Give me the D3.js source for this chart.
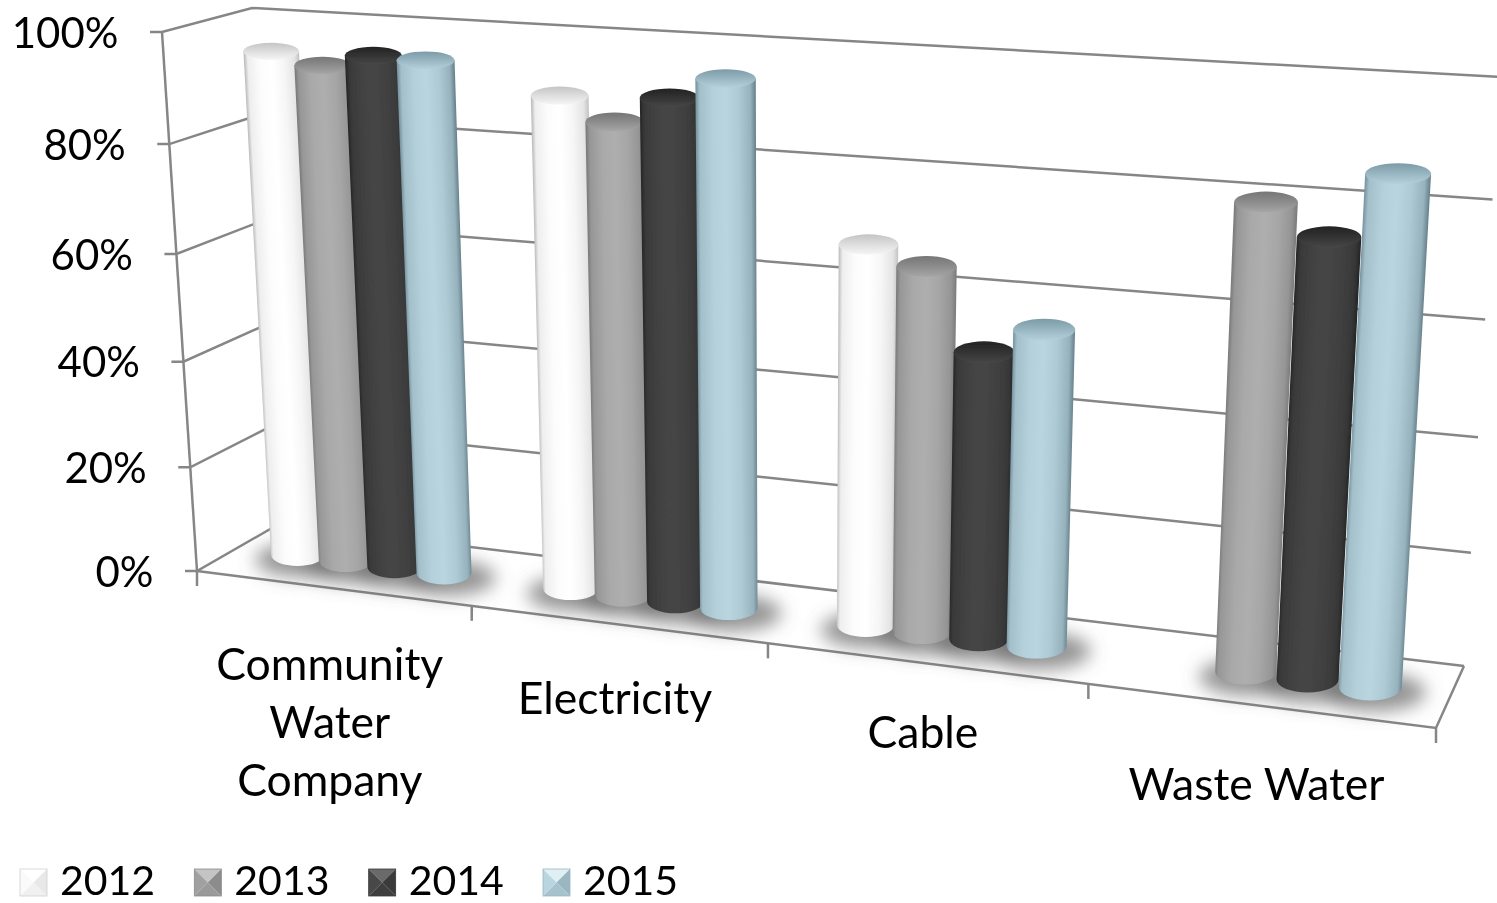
<!DOCTYPE html>
<html><head><meta charset="utf-8">
<script src="https://cdn.jsdelivr.net/npm/d3@7"></script>
<style>html,body{margin:0;padding:0;background:#fff;overflow:hidden}svg{display:block}text{font-family:Lato,sans-serif;fill:#000}</style>
</head><body><svg id="c" width="1497" height="903"></svg>
<script>
// ---- data ----
const categories = ["Community Water Company","Electricity","Cable","Waste Water"];
const categoryLines = [["Community","Water","Company"],["Electricity"],["Cable"],["Waste Water"]];
const years = ["2012","2013","2014","2015"];
const v2012 = [95,90.2,68,null];
const v2013 = [93,86.2,65,80];
const v2014 = [95.3,91,51,75];
const v2015 = [95,94.9,55.8,86];
const yTicks = [0,20,40,60,80,100];
const series = [v2012,v2013,v2014,v2015];

// ---- styles ----
const sideStops = [
 ["#c0c0c0","#eeeeee","#fcfcfc","#ffffff","#f6f6f6","#e4e4e4","#c6c6c6"],
 ["#7c7c7c","#979797","#a9a9a9","#aeaeae","#a6a6a6","#959595","#7d7d7d"],
 ["#282828","#393939","#434343","#454545","#414141","#383838","#272727"],
 ["#7a98a3","#a2bfca","#b4d0da","#b9d5df","#aecad5","#96b2bd","#6a8590"]];
const capStops = [["#c4c4c4","#dedede","#f5f5f5"],["#767676","#8c8c8c","#a6a6a6"],["#232323","#333333","#474747"],["#7c9ba6","#98b6c1","#b5d1db"]];
const bevel = [["#ffffff","#e8e8e8","#f0f0f0","#fafafa"],["#c4c4c4","#8c8c8c","#9a9a9a","#a0a0a0"],["#6a6a6a","#3a3a3a","#3e3e3e","#484848"],["#dfeff4","#9ab6c1","#a6c2cd","#b9d5df"]];
const lineColor = "#868686", axisFontPx = 42, catFontPx = 44.5, legendFontPx = 41;

// ---- projection: box corners of the 3D plot, with perspective warps ----
const C = {
 f0b:[197,571], f1b:[1436,728], b0b:[279,524], b1b:[1464,666],
 f0t:[162,32],  f1t:[1474,104], b0t:[252,8],   b1t:[1500,77]};
const warp = k => t => t/(t+k*(1-t));
const uNorm = d3.scaleLinear().domain([0,categories.length]).range([0,1]);
const vNorm = d3.scaleLinear().domain([0,100]).range([0,1]);
const uW = warp(1.17), vW = warp(1.05);
const mix = (a,b,t)=>[a[0]+(b[0]-a[0])*t,a[1]+(b[1]-a[1])*t];
function project(cat,val,w){
  const u=uW(uNorm(cat)), v=vW(vNorm(val));
  const fb=mix(C.f0b,C.f1b,u), ft=mix(C.f0t,C.f1t,u), bb=mix(C.b0b,C.b1b,u), bt=mix(C.b0t,C.b1t,u);
  return mix(mix(fb,bb,w),mix(ft,bt,w),v);
}
const svg=d3.select("#c"), defs=svg.append("defs");
defs.append("filter").attr("id","shadow").attr("x","-50%").attr("y","-100%").attr("width","200%").attr("height","300%")
  .append("feGaussianBlur").attr("stdDeviation",9);
defs.append("filter").attr("id","soft").attr("x","-5%").attr("y","-5%").attr("width","110%").attr("height","110%")
  .append("feGaussianBlur").attr("stdDeviation",0.5);
const line=d3.line();
const grid=svg.append("g").attr("fill","none").attr("stroke",lineColor).attr("stroke-width",2.5);

// walls
yTicks.forEach(t=>{
  const a=project(0,t,0);
  grid.append("path").attr("d",line([[a[0]-12,a[1]],a,project(0,t,1),project(categories.length,t,1)]));
});
// floor and axes
const n=categories.length;
grid.append("path").attr("d",line([project(0,0,0),project(n,0,0),project(n,0,1)]));
grid.append("path").attr("d",line([project(0,0,0),project(0,100,0)]));
d3.range(n+1).forEach(i=>{const p=project(i,0,0);grid.append("path").attr("d",line([p,[p[0],p[1]+15]]));});

// cylinders
const gap=0.125, slot=(1-2*gap)/years.length, pitch=slot*0.97;
const shadows=svg.append("g").attr("filter","url(#shadow)");
const bars=svg.append("g").attr("filter","url(#soft)");
function ring(cat,val,half){
  const l=project(cat-half,val,0.5), r=project(cat+half,val,0.5);
  const rx=(r[0]-l[0])/2, t=vW(vNorm(val));
  return {cx:(l[0]+r[0])/2, cy:(l[1]+r[1])/2, rx, ry:rx*(0.42+(0.30-0.42)*t)};
}
categories.forEach((c,i)=>{
  const half=slot/2*(1.07-0.035*i);
  series.forEach((vals,j)=>{
    const val=vals[i];
    if(val==null) return;
    const cat=i+0.5+pitch*(j-(years.length-1)/2);
    const b=ring(cat,0,half), t=ring(cat,val,half);
    shadows.append("ellipse").attr("cx",b.cx+4).attr("cy",b.cy+5).attr("rx",b.rx+20).attr("ry",b.ry+6).attr("fill","#666").attr("opacity",.7);
    // shading runs across the cylinder, normal to its leaning axis
    const ax=t.cx-b.cx, ay=t.cy-b.cy, len=Math.hypot(ax,ay), nx=-ay/len, ny=ax/len;
    const mx=(t.cx+b.cx)/2, my=(t.cy+b.cy)/2, hw=(t.rx+b.rx)/2;
    const sid=`side${i}${j}`;
    const sg=defs.append("linearGradient").attr("id",sid).attr("gradientUnits","userSpaceOnUse")
      .attr("x1",mx-nx*hw).attr("y1",my-ny*hw).attr("x2",mx+nx*hw).attr("y2",my+ny*hw);
    sideStops[j].forEach((col,q)=>sg.append("stop").attr("offset",[0,.06,.28,.5,.72,.92,1][q]).attr("stop-color",col));
    const g=bars.append("g");
    const d=`M${t.cx-t.rx},${t.cy}L${b.cx-b.rx},${b.cy}A${b.rx},${b.ry} 0 0 0 ${b.cx+b.rx},${b.cy}L${t.cx+t.rx},${t.cy}Z`;
    g.append("path").attr("d",d).attr("fill",`url(#${sid})`);
    const id=`cap${i}${j}`;
    const lg=defs.append("linearGradient").attr("id",id).attr("x1",0).attr("y1",0).attr("x2",0).attr("y2",1);
    capStops[j].forEach((col,q)=>lg.append("stop").attr("offset",q/2).attr("stop-color",col));
    g.append("ellipse").attr("cx",t.cx).attr("cy",t.cy).attr("rx",t.rx).attr("ry",t.ry).attr("fill",`url(#${id})`);
  });
});

// y labels
yTicks.forEach(t=>{
  const p=project(0,t,0);
  svg.append("text").attr("x",p[0]-43.5).attr("y",p[1]+1).attr("dy",".35em").attr("text-anchor","end")
    .attr("font-size",axisFontPx).text(t+"%");
});
// category labels
const labelDy=[76,74,69,79];
categoryLines.forEach((ls,i)=>{
  const p=project(i+.5,0,0);
  ls.forEach((s,q)=>svg.append("text").attr("x",p[0]-2).attr("y",p[1]+labelDy[i]+q*58).attr("dy",".35em")
    .attr("text-anchor","middle").attr("font-size",catFontPx).text(s));
});
// legend
const legendX=d3.scalePoint().domain(years).range([20,543]);
years.forEach((y,j)=>{
  const x=legendX(y), top=869, s=27, m=[x+s/2,top+s/2];
  const cs=[[x,top],[x+s,top],[x+s,top+s],[x,top+s]];
  cs.forEach((p,q)=>svg.append("path").attr("d",line([p,cs[(q+1)%4],m])+"Z").attr("fill",bevel[j][q]));
  svg.append("rect").attr("x",x).attr("y",top).attr("width",s).attr("height",s).attr("fill","none").attr("stroke",j==0?"#cfcfcf":bevel[j][1]).attr("stroke-width",.8);
  svg.append("text").attr("x",x+40).attr("y",894.5).attr("font-size",legendFontPx).text(y);
});
</script></body></html>
